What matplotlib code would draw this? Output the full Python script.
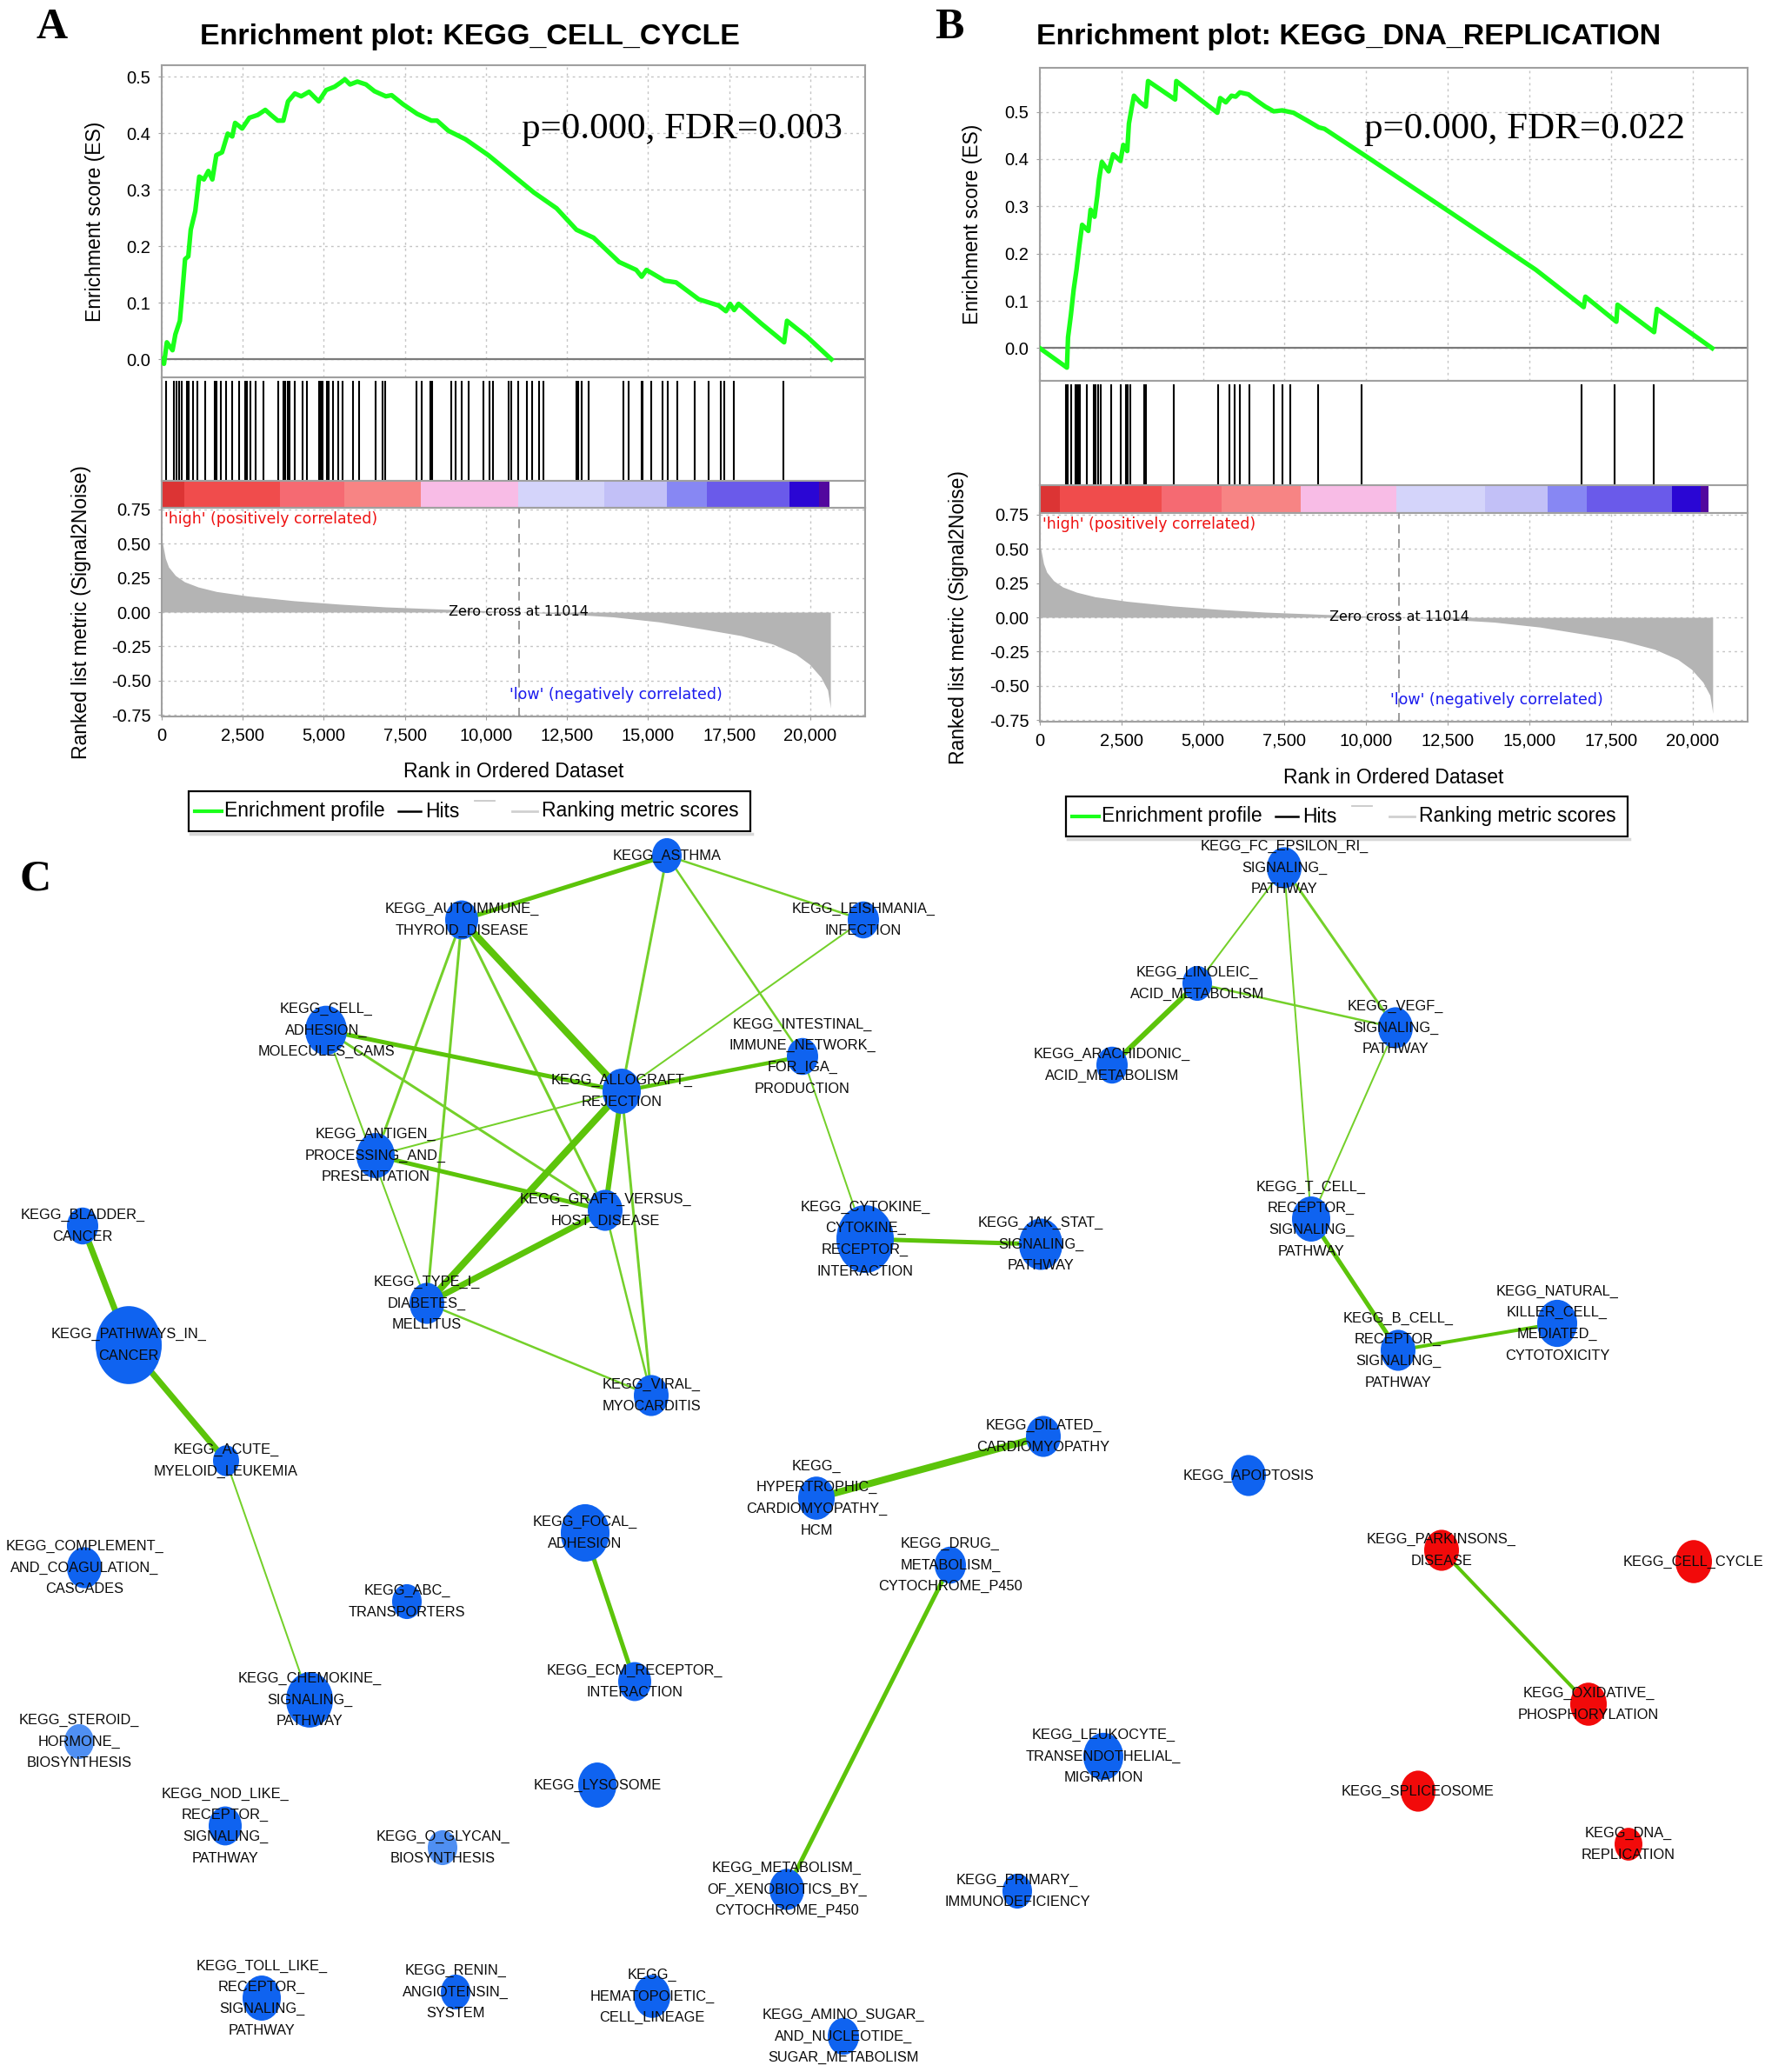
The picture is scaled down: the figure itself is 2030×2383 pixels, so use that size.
import numpy as np
import matplotlib.pyplot as plt
from matplotlib.patches import Ellipse, Rectangle
from matplotlib.ticker import FuncFormatter

plt.rcParams['font.family'] = ['Liberation Sans', 'DejaVu Sans']

W, H = 2031, 2383

# ---------------- GSEA data ----------------
# ranked list metric (same ranked list in both panels)
rank_x = [0, 28, 113, 211, 422, 703, 1125, 1688, 2672, 4079, 5485, 6892, 8298, 9705,
          11014, 12518, 13924, 15331, 16737, 17863, 18847, 19550, 19972, 20323, 20534, 20605, 20620]
rank_val = [0.52, 0.50, 0.392, 0.329, 0.267, 0.221, 0.183, 0.15, 0.117, 0.083, 0.058, 0.038,
            0.025, 0.0125, 0.0, -0.0146, -0.035, -0.071, -0.125, -0.171, -0.233, -0.306,
            -0.379, -0.473, -0.567, -0.671, -0.70]

# KEGG_CELL_CYCLE running enrichment score
es_a_x = [0, 70, 158, 333, 421, 560, 632, 720, 820, 895, 1035, 1158, 1300, 1439, 1561, 1684,
          1860, 2035, 2175, 2263, 2480, 2702, 2960, 3193, 3370, 3579, 3750, 3895, 4105, 4300,
          4544, 4842, 5070, 5333, 5509, 5649, 5807, 6035, 6298, 6561, 6912, 7090, 7439, 7877,
          8316, 8490, 8842, 9368, 10070, 10772, 11474, 12175, 12789, 13316, 14105, 14632, 14800,
          14947, 15509, 15860, 16561, 17175, 17400, 17526, 17650, 17789, 18491, 19193, 19281,
          19895, 20649]
es_a_y = [0.0, -0.008, 0.03, 0.016, 0.044, 0.068, 0.115, 0.177, 0.182, 0.229, 0.262, 0.323,
          0.318, 0.333, 0.318, 0.361, 0.366, 0.399, 0.394, 0.418, 0.408, 0.427, 0.432, 0.441,
          0.432, 0.422, 0.422, 0.456, 0.47, 0.465, 0.473, 0.456, 0.476, 0.482, 0.489, 0.495,
          0.486, 0.491, 0.486, 0.474, 0.465, 0.467, 0.451, 0.434, 0.422, 0.422, 0.404, 0.389,
          0.361, 0.328, 0.295, 0.267, 0.229, 0.215, 0.172, 0.158, 0.146, 0.158, 0.139, 0.136,
          0.106, 0.095, 0.085, 0.098, 0.087, 0.098, 0.063, 0.030, 0.068, 0.040, 0.0]
hits_a = [125, 367, 456, 528, 618, 779, 841, 958, 1110, 1334, 1647, 1692, 1826, 1978, 2184,
          2390, 2587, 2632, 2748, 2900, 3124, 3590, 3751, 3795, 3885, 3947, 4090, 4332, 4484,
          4843, 4870, 4896, 4959, 5093, 5137, 5290, 5451, 5585, 5899, 6077, 6597, 6820, 6882,
          7849, 8028, 8297, 8332, 8941, 9075, 9255, 9459, 9926, 10105, 10222, 10687, 10775,
          10982, 11269, 11419, 11626, 11779, 12789, 12834, 12942, 13175, 14238, 14400, 14803,
          14830, 15098, 15447, 15608, 15895, 16440, 16862, 17246, 17353, 17649, 19171]

# KEGG_DNA_REPLICATION running enrichment score
es_b_x = [0, 829, 863, 950, 1036, 1123, 1209, 1295, 1485, 1554, 1675, 1762, 1813, 1900, 2107,
          2245, 2470, 2556, 2677, 2729, 2815, 2884, 3074, 3247, 3316, 4145, 4180, 5440, 5527,
          5699, 5872, 6000, 6131, 6390, 6597, 6908, 7167, 7427, 7772, 8204, 8549, 8722, 10017,
          12608, 15198, 16666, 16718, 17668, 17703, 18825, 18912, 20604]
es_b_y = [0.0, -0.041, 0.023, 0.07, 0.124, 0.166, 0.216, 0.261, 0.248, 0.293, 0.278, 0.323,
          0.357, 0.394, 0.374, 0.41, 0.396, 0.43, 0.417, 0.475, 0.509, 0.534, 0.52, 0.511, 0.565,
          0.526, 0.565, 0.498, 0.529, 0.52, 0.534, 0.532, 0.541, 0.537, 0.526, 0.511, 0.501,
          0.503, 0.498, 0.481, 0.467, 0.464, 0.405, 0.286, 0.166, 0.087, 0.109, 0.056, 0.092,
          0.034, 0.083, 0.0]
hits_b = [800, 862, 951, 1094, 1129, 1182, 1218, 1449, 1645, 1716, 1778, 1867, 2196, 2489,
          2641, 2694, 2783, 3201, 3246, 4107, 5467, 5806, 5956, 6116, 6419, 7174, 7423, 7663,
          8535, 9869, 16597, 17602, 18802]

# colour strip of the ranked list (segment edges in rank units)
strip_a_edges = [0, 700, 3650, 5640, 8000, 11000, 13640, 15570, 16820, 19370, 20260, 20600]
strip_b_edges = [0, 600, 3730, 5560, 8000, 10930, 13645, 15556, 16773, 19378, 20240, 20490]
strip_colors = ['#dc3434', '#f04c4c', '#f56a72', '#f78484', '#f8bce6', '#d4d4fa',
                '#c2c0f7', '#8787f3', '#6a5aea', '#2a06d4', '#52089e']

pvals = ['p=0.000, FDR=0.003', 'p=0.000, FDR=0.022']
titles = ['Enrichment plot: KEGG_CELL_CYCLE', 'Enrichment plot: KEGG_DNA_REPLICATION']

# ---------------- network data ----------------
node_keys = ['ASTHMA', 'AUTOIMMUNE', 'LEISHMANIA', 'CAMS', 'INTESTINAL', 'ALLOGRAFT', 'ANTIGEN',
             'GVHD', 'BLADDER', 'PATHWAYS', 'T1D', 'VIRAL', 'AML', 'FCER', 'LINOLEIC', 'VEGF',
             'ARACHIDONIC', 'TCELL', 'JAKSTAT', 'CYTOKINE', 'BCELL', 'NK', 'DILATED', 'COMPLEMENT',
             'FOCAL', 'HCM', 'ABC', 'ECM', 'CHEMOKINE', 'STEROID', 'LYSOSOME', 'NOD', 'OGLYCAN',
             'XENO', 'TOLL', 'RENIN', 'HEMATO', 'AMINO', 'APOPTOSIS', 'DRUG', 'PARKINSONS',
             'CELLCYCLE', 'OXPHOS', 'LEUKOCYTE', 'SPLICEOSOME', 'DNAREP', 'PRIMARY']
node_labels = [
    'KEGG_ASTHMA', 'KEGG_AUTOIMMUNE_\nTHYROID_DISEASE', 'KEGG_LEISHMANIA_\nINFECTION',
    'KEGG_CELL_\nADHESION_\nMOLECULES_CAMS', 'KEGG_INTESTINAL_\nIMMUNE_NETWORK_\nFOR_IGA_\nPRODUCTION',
    'KEGG_ALLOGRAFT_\nREJECTION', 'KEGG_ANTIGEN_\nPROCESSING_AND_\nPRESENTATION',
    'KEGG_GRAFT_VERSUS_\nHOST_DISEASE', 'KEGG_BLADDER_\nCANCER', 'KEGG_PATHWAYS_IN_\nCANCER',
    'KEGG_TYPE_I_\nDIABETES_\nMELLITUS', 'KEGG_VIRAL_\nMYOCARDITIS', 'KEGG_ACUTE_\nMYELOID_LEUKEMIA',
    'KEGG_FC_EPSILON_RI_\nSIGNALING_\nPATHWAY', 'KEGG_LINOLEIC_\nACID_METABOLISM',
    'KEGG_VEGF_\nSIGNALING_\nPATHWAY', 'KEGG_ARACHIDONIC_\nACID_METABOLISM',
    'KEGG_T_CELL_\nRECEPTOR_\nSIGNALING_\nPATHWAY', 'KEGG_JAK_STAT_\nSIGNALING_\nPATHWAY',
    'KEGG_CYTOKINE_\nCYTOKINE_\nRECEPTOR_\nINTERACTION', 'KEGG_B_CELL_\nRECEPTOR_\nSIGNALING_\nPATHWAY',
    'KEGG_NATURAL_\nKILLER_CELL_\nMEDIATED_\nCYTOTOXICITY', 'KEGG_DILATED_\nCARDIOMYOPATHY',
    'KEGG_COMPLEMENT_\nAND_COAGULATION_\nCASCADES', 'KEGG_FOCAL_\nADHESION',
    'KEGG_\nHYPERTROPHIC_\nCARDIOMYOPATHY_\nHCM', 'KEGG_ABC_\nTRANSPORTERS',
    'KEGG_ECM_RECEPTOR_\nINTERACTION', 'KEGG_CHEMOKINE_\nSIGNALING_\nPATHWAY',
    'KEGG_STEROID_\nHORMONE_\nBIOSYNTHESIS', 'KEGG_LYSOSOME',
    'KEGG_NOD_LIKE_\nRECEPTOR_\nSIGNALING_\nPATHWAY', 'KEGG_O_GLYCAN_\nBIOSYNTHESIS',
    'KEGG_METABOLISM_\nOF_XENOBIOTICS_BY_\nCYTOCHROME_P450',
    'KEGG_TOLL_LIKE_\nRECEPTOR_\nSIGNALING_\nPATHWAY', 'KEGG_RENIN_\nANGIOTENSIN_\nSYSTEM',
    'KEGG_\nHEMATOPOIETIC_\nCELL_LINEAGE', 'KEGG_AMINO_SUGAR_\nAND_NUCLEOTIDE_\nSUGAR_METABOLISM',
    'KEGG_APOPTOSIS', 'KEGG_DRUG_\nMETABOLISM_\nCYTOCHROME_P450', 'KEGG_PARKINSONS_\nDISEASE',
    'KEGG_CELL_CYCLE', 'KEGG_OXIDATIVE_\nPHOSPHORYLATION',
    'KEGG_LEUKOCYTE_\nTRANSENDOTHELIAL_\nMIGRATION', 'KEGG_SPLICEOSOME', 'KEGG_DNA_\nREPLICATION',
    'KEGG_PRIMARY_\nIMMUNODEFICIENCY']
node_x = [767, 531, 993, 375, 923, 715, 432, 696, 95, 148, 491, 749, 260, 1477, 1377, 1605,
          1279, 1508, 1197, 995, 1608, 1791, 1200, 97, 673, 939, 468, 730, 356, 91, 687, 259,
          509, 905, 301, 524, 750, 970, 1436, 1093, 1658, 1948, 1827, 1269, 1631, 1873, 1170]
node_y = [984, 1058, 1058, 1185, 1215, 1255, 1329, 1392, 1410, 1547, 1499, 1605, 1680, 998,
          1131, 1182, 1225, 1402, 1431, 1425, 1553, 1522, 1652, 1803, 1763, 1723, 1842, 1934,
          1955, 2003, 2053, 2100, 2125, 2173, 2298, 2291, 2296, 2342, 1697, 1800, 1783, 1796,
          1960, 2020, 2060, 2121, 2175]
node_size = [34, 38, 36, 48, 36, 44, 44, 40, 36, 76, 40, 40, 30, 40, 34, 40, 36, 44, 50, 66,
             40, 46, 40, 40, 56, 42, 34, 38, 54, 34, 44, 38, 34, 40, 44, 34, 42, 36, 40, 36,
             40, 42, 42, 46, 40, 32, 34]
# 'up' = enriched in high group (red), 'down' = blue, 'weak' = pale blue
node_group = ['down'] * 29 + ['weak', 'down', 'down', 'weak'] + ['down'] * 7 + \
             ['up', 'up', 'up', 'down', 'up', 'up', 'down']

edge_src = ['ASTHMA', 'ASTHMA', 'ASTHMA', 'ASTHMA', 'LEISHMANIA', 'INTESTINAL', 'INTESTINAL',
            'AUTOIMMUNE', 'AUTOIMMUNE', 'AUTOIMMUNE', 'AUTOIMMUNE', 'CAMS', 'CAMS', 'CAMS',
            'ANTIGEN', 'ANTIGEN', 'ALLOGRAFT', 'ALLOGRAFT', 'ALLOGRAFT', 'GVHD', 'GVHD', 'T1D',
            'BLADDER', 'PATHWAYS', 'AML', 'CYTOKINE', 'FCER', 'FCER', 'FCER', 'LINOLEIC',
            'LINOLEIC', 'VEGF', 'TCELL', 'BCELL', 'DILATED', 'FOCAL', 'DRUG', 'PARKINSONS']
edge_dst = ['AUTOIMMUNE', 'ALLOGRAFT', 'LEISHMANIA', 'INTESTINAL', 'ALLOGRAFT', 'ALLOGRAFT',
            'CYTOKINE', 'ALLOGRAFT', 'ANTIGEN', 'T1D', 'GVHD', 'ALLOGRAFT', 'GVHD', 'T1D',
            'ALLOGRAFT', 'GVHD', 'T1D', 'GVHD', 'VIRAL', 'T1D', 'VIRAL', 'VIRAL',
            'PATHWAYS', 'AML', 'CHEMOKINE', 'JAKSTAT', 'LINOLEIC', 'VEGF', 'TCELL', 'VEGF',
            'ARACHIDONIC', 'TCELL', 'BCELL', 'NK', 'HCM', 'ECM', 'XENO', 'OXPHOS']
edge_px = [5, 3, 2.5, 2.5, 2, 4.5, 2, 8, 3, 3, 3, 5, 3, 2, 2, 5, 8, 6, 3, 7, 2.5, 2.5,
           7, 7, 2, 5, 2, 3, 2, 2.5, 6, 2, 5, 4, 8, 5, 5, 4]

# ---------------- figure ----------------
fig = plt.figure(figsize=(W / 100, H / 100), dpi=100)


def px_axes(x0, y0, x1, y1):
    return fig.add_axes([x0 / W, 1 - y1 / H, (x1 - x0) / W, (y1 - y0) / H])


XMAX = 21690
frame_col = '#a0a0a0'
grid_kw = dict(color='#c4c4c4', linestyle=(0, (2, 3)), linewidth=1.0)
comma = FuncFormatter(lambda v, p: f'{int(v):,}')

panels = [
    dict(x0=186, x1=995, es=(75, 434), hit_band=(434, 553), strip=(553, 584), rank=(584, 824),
         es_ylim=(-0.032, 0.52), es_x=es_a_x, es_y=es_a_y, hit_list=hits_a,
         edges=strip_a_edges, es_lab_x=121, rk_lab_x=105, xlab_y=876,
         title_xy=(540, 42), letter='A', letter_xy=(60, 32), p_xy=(600, 159),
         legend_x=217, legend_y=910),
    dict(x0=1196, x1=2010, es=(78, 438), hit_band=(438, 558), strip=(558, 590), rank=(590, 830),
         es_ylim=(-0.069, 0.593), es_x=es_b_x, es_y=es_b_y, hit_list=hits_b,
         edges=strip_b_edges, es_lab_x=1130, rk_lab_x=1114, xlab_y=883,
         title_xy=(1551, 43), letter='B', letter_xy=(1092, 32), p_xy=(1569, 159),
         legend_x=1226, legend_y=916),
]

ov = fig.add_axes([0, 0, 1, 1], zorder=5)
ov.set_xlim(0, W)
ov.set_ylim(H, 0)
ov.axis('off')
ov.patch.set_alpha(0)

for i, P in enumerate(panels):
    x0, x1 = P['x0'], P['x1']
    width = x1 - x0
    ax_es = px_axes(x0, P['es'][0], x1, P['es'][1])
    ax_hit = px_axes(x0, P['hit_band'][0], x1, P['hit_band'][1])
    ax_st = px_axes(x0, P['strip'][0], x1, P['strip'][1])
    ax_rk = px_axes(x0, P['rank'][0], x1, P['rank'][1])

    for ax in (ax_es, ax_hit, ax_st, ax_rk):
        ax.set_xlim(0, XMAX)
        for s in ax.spines.values():
            s.set_color(frame_col)
            s.set_linewidth(1.5)

    # enrichment score
    ax_es.plot(P['es_x'], P['es_y'], color='#1aff1a', lw=3.8, zorder=3)
    ax_es.axhline(0, color='#7a7a7a', lw=1.6, zorder=2)
    ax_es.set_ylim(*P['es_ylim'])
    ax_es.set_yticks([0.0, 0.1, 0.2, 0.3, 0.4, 0.5])
    ax_es.yaxis.set_major_formatter(FuncFormatter(lambda v, p: f'{v:.1f}'))
    ax_es.set_xticks(np.arange(0, 20001, 2500))
    ax_es.tick_params(axis='x', length=0, labelbottom=False)
    ax_es.tick_params(axis='y', length=3, color=frame_col, pad=6, labelsize=14.5)
    ax_es.grid(True, **grid_kw)
    ax_es.set_axisbelow(True)
    ax_es.set_ylabel('Enrichment score (ES)', fontsize=16.5)
    ax_es.yaxis.set_label_coords((P['es_lab_x'] - x0) / width, 0.5)

    # hits
    ax_hit.vlines(P['hit_list'], 0, 0.965, color='black', lw=1.5)
    ax_hit.set_ylim(0, 1)
    ax_hit.set_xticks([])
    ax_hit.set_yticks([])

    # colour strip
    e = P['edges']
    for k in range(len(strip_colors)):
        ax_st.axvspan(e[k], e[k + 1], color=strip_colors[k], lw=0)
    ax_st.set_ylim(0, 1)
    ax_st.set_xticks([])
    ax_st.set_yticks([])

    # ranked list metric
    ax_rk.fill_between(rank_x, rank_val, 0, color='#b4b4b4', lw=0, zorder=2)
    ax_rk.axvline(11014, color='#8a8a8a', lw=1.2, ls=(0, (6, 4)), zorder=3)
    ax_rk.set_ylim(-0.76, 0.76)
    ax_rk.set_yticks([0.75, 0.5, 0.25, 0.0, -0.25, -0.5, -0.75])
    ax_rk.yaxis.set_major_formatter(FuncFormatter(lambda v, p: f'{v:.2f}'))
    ax_rk.set_xticks(np.arange(0, 20001, 2500))
    ax_rk.xaxis.set_major_formatter(comma)
    ax_rk.tick_params(length=3, color=frame_col, pad=6, labelsize=14.5)
    ax_rk.grid(True, **grid_kw)
    ax_rk.set_axisbelow(True)
    ax_rk.set_ylabel('Ranked list metric (Signal2Noise)', fontsize=16.5)
    ax_rk.yaxis.set_label_coords((P['rk_lab_x'] - x0) / width, 0.5)
    ax_rk.set_xlabel('Rank in Ordered Dataset', fontsize=16.5)
    xl_frac = (P['xlab_y'] - P['rank'][1]) / (P['rank'][1] - P['rank'][0])
    ax_rk.xaxis.set_label_coords(0.5, -xl_frac)
    ax_rk.text(80, 0.735, "'high' (positively correlated)", color='#ee1111', fontsize=12.5,
               family='DejaVu Sans', va='top', ha='left')
    ax_rk.text(11014, 0.0, 'Zero cross at 11014', color='black', fontsize=11.5,
               family='DejaVu Sans', va='center', ha='center', zorder=4)
    ax_rk.text(14000, -0.60, "'low' (negatively correlated)", color='#1a1aee', fontsize=12.5,
               family='DejaVu Sans', va='center', ha='center')

    # title, letter, stats
    ov.text(*P['title_xy'], titles[i], fontsize=24.5, fontweight='bold', ha='center', va='center')
    ov.text(*P['letter_xy'], P['letter'], fontsize=36, fontweight='bold', family='Liberation Serif',
            ha='center', va='center')
    ov.text(*P['p_xy'], pvals[i], fontsize=31, family='Liberation Serif', ha='left', va='baseline')

    # legend box
    lx, ly = P['legend_x'], P['legend_y']
    ov.plot([lx + 2, lx + 648], [ly + 49, ly + 49], color='#d8d8d8', lw=2.5)
    ov.add_patch(Rectangle((lx, ly), 646, 46, fill=False, ec='black', lw=1.6))
    cy = ly + 23
    ov.plot([lx + 7, lx + 38], [cy, cy], color='#1aff1a', lw=3)
    ov.text(lx + 41, cy, 'Enrichment profile', fontsize=16.5, va='center', ha='left')
    ov.plot([lx + 241, lx + 267], [cy, cy], color='black', lw=1.8)
    ov.text(lx + 272, cy, 'Hits', fontsize=16.5, va='center', ha='left')
    ov.plot([lx + 329, lx + 352], [cy - 12, cy - 12], color='#c8c8c8', lw=1.3)
    ov.plot([lx + 372, lx + 401], [cy, cy], color='#d0d0d0', lw=2)
    ov.text(lx + 406, cy, 'Ranking metric scores', fontsize=16.5, va='center', ha='left')

# ---------------- panel C network ----------------
ov.text(41, 1012, 'C', fontsize=36, fontweight='bold', family='Liberation Serif',
        ha='center', va='center')

pos = {k: (x, y) for k, x, y in zip(node_keys, node_x, node_y)}
for s, d, w in zip(edge_src, edge_dst, edge_px):
    (xa, ya), (xb, yb) = pos[s], pos[d]
    col = '#5cc40a' if w >= 4 else '#74d02a'
    ov.plot([xa, xb], [ya, yb], color=col, lw=w * 0.72, solid_capstyle='round', zorder=1)

group_color = {'down': '#0f63f0', 'weak': '#4f8ff2', 'up': '#f20a0a'}
for x, y, sz, g in zip(node_x, node_y, node_size, node_group):
    ov.add_patch(Ellipse((x, y), sz, sz * 1.18, color=group_color[g], lw=0, zorder=2))
for x, y, lab in zip(node_x, node_y, node_labels):
    ov.text(x, y, lab, fontsize=11.8, ha='center', va='center', multialignment='center',
            linespacing=1.8, color='#0a0a0a', zorder=3)

fig.savefig('out.png', dpi=100)
